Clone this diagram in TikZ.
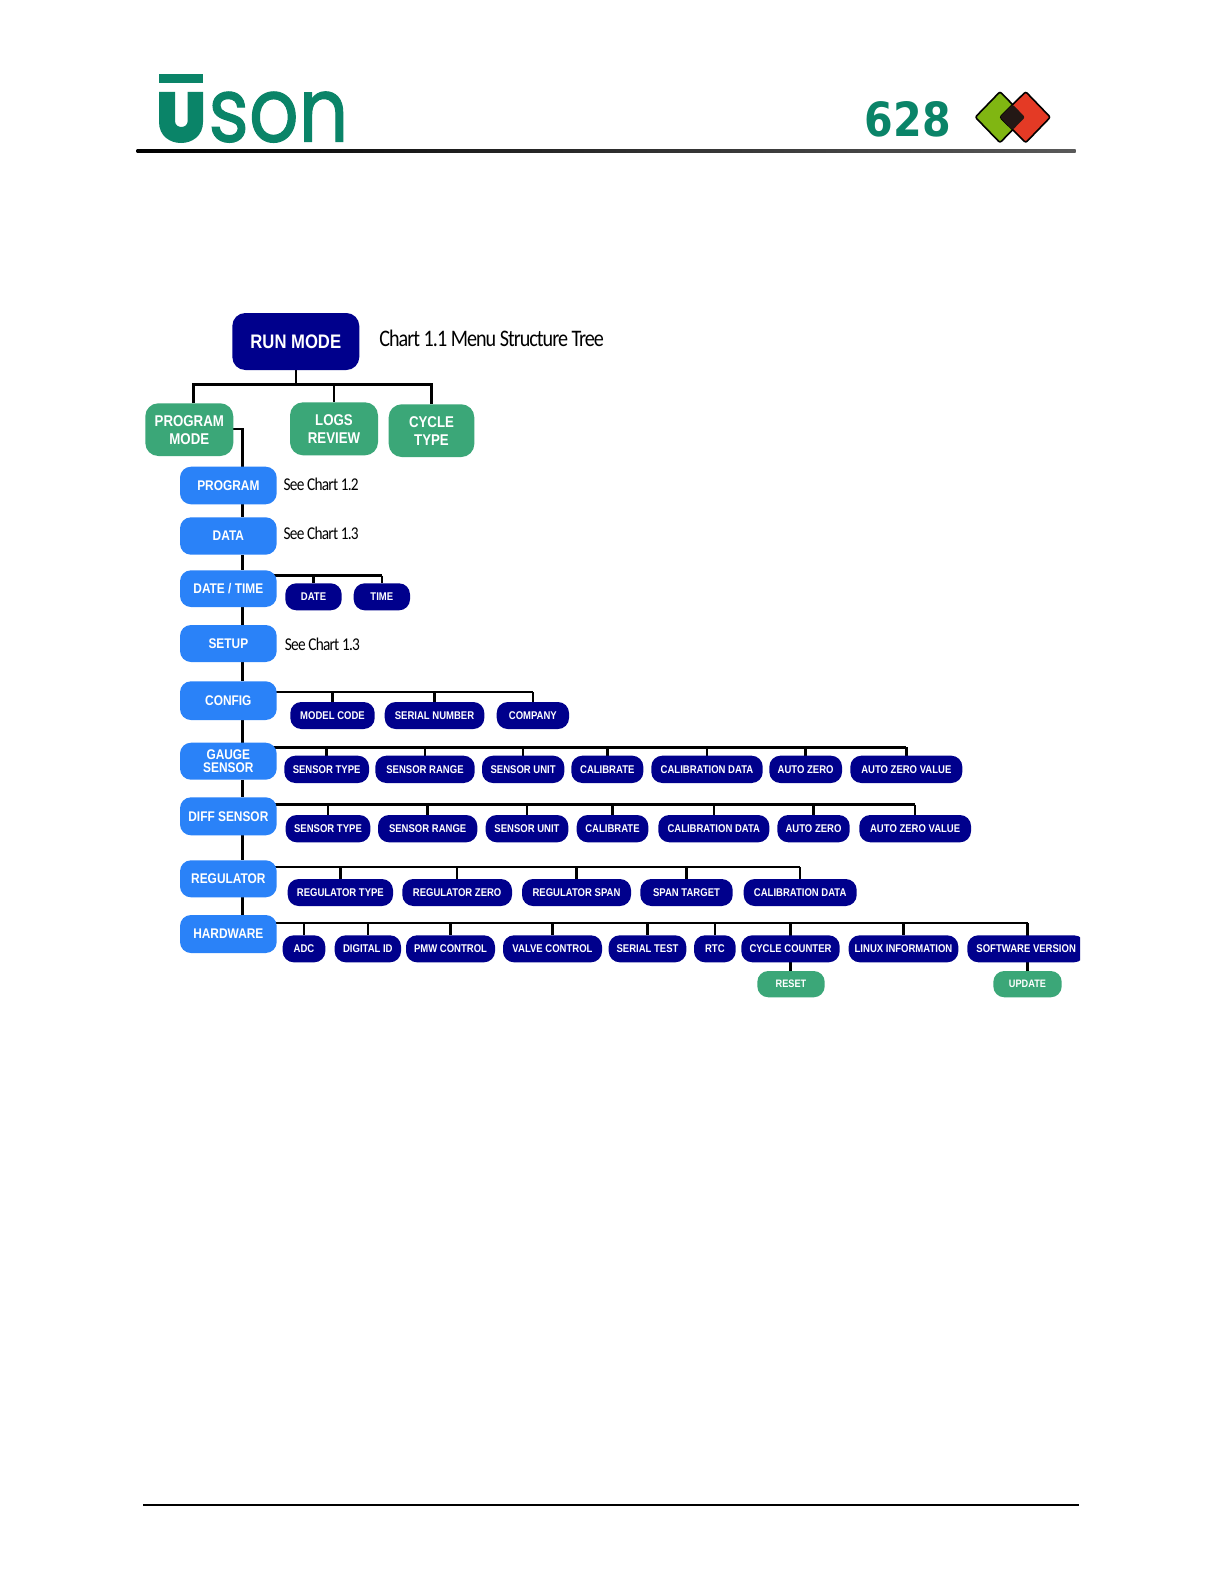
\documentclass[tikz,border=0pt]{standalone}
\usepackage{fontspec}
\usepackage{graphicx}
\usetikzlibrary{backgrounds}
\newfontfamily\labfont[FakeStretch=0.85]{Liberation Sans}
\newfontfamily\chartfont[FakeStretch=0.85,LetterSpace=-4.2]{Carlito}
\newfontfamily\logofont[FakeBold=1.2]{Poppins}
\newfontfamily\numfont{DejaVu Sans}
\definecolor{navybox}{RGB}{0,0,140}
\definecolor{bluebox}{RGB}{42,130,248}
\definecolor{greenbox}{RGB}{59,167,120}
\definecolor{logogreen}{RGB}{10,132,104}
\definecolor{dgreen}{RGB}{128,182,18}
\definecolor{dred}{RGB}{228,58,37}
\definecolor{ddark}{RGB}{35,24,21}
\tikzset{
  wd/.style={minimum width=#1*0.5pt},
  ht/.style={minimum height=#1*0.5pt},
  box/.style={inner sep=0pt,outer sep=0pt,text=white,align=center},
  runbox/.style={box,fill=navybox,rounded corners=6.5pt,font=\labfont\bfseries\fontsize{9.8}{11}\selectfont},
  modebox/.style={box,fill=greenbox,rounded corners=6.5pt,font=\labfont\bfseries\fontsize{7.8}{9}\selectfont},
  menubox/.style={box,fill=bluebox,rounded corners=5.5pt,wd=96.7,font=\labfont\bfseries\fontsize{7}{6.5}\selectfont},
  subbox/.style={box,fill=navybox,rounded corners=5.5pt,font=\labfont\bfseries\fontsize{5.6}{6.5}\selectfont},
  actbox/.style={box,fill=greenbox,rounded corners=5.5pt,font=\labfont\bfseries\fontsize{5.4}{6.5}\selectfont},
  conn/.style={draw=black,line width=1.25pt},
  note/.style={inner sep=0pt,anchor=west,font=\chartfont\fontsize{9}{11}\selectfont},
}
\begin{document}
\begin{tikzpicture}[x=0.5pt,y=-0.5pt]
\useasboundingbox (0,0) rectangle (1224,1584);

% header
\fill[logogreen] (159,74) rectangle (203,83);
\fill[logogreen] (159,92) -- (175,92) -- (175,121) .. controls (175,129) and (187.7,129) .. (187.7,121) -- (187.7,92) -- (203,92) -- (203,122) .. controls (203,150) and (159,150) .. (159,122) -- cycle;
\node[inner sep=0pt,anchor=base west,text=logogreen] (logoson) at (208,141.7) {\resizebox{70pt}{25pt}{\logofont son}};
\node[inner sep=0pt,text=logogreen,anchor=base west] (logonum) at (864.3,136.7) {\resizebox{43pt}{17.5pt}{\numfont\bfseries 628}};
\draw[fill=dgreen,line width=0.8pt,rounded corners=1pt] (975.3,117.2) -- (1000,91.7) -- (1025,117.2) -- (1000,142.7) -- cycle;
\draw[fill=dred,line width=0.8pt,rounded corners=1pt] (1000,117.2) -- (1025.7,91.7) -- (1050.3,117.2) -- (1025.7,142.7) -- cycle;
\fill[ddark,rounded corners=1pt] (1000,117.2) -- (1012.6,104.4) -- (1025,117.2) -- (1012.6,130) -- cycle;
\shade[left color=black,middle color=black,right color=black!65] (136.7,149.2) rectangle (1075.7,152.2);
\fill[black] (143.4,1504) rectangle (1078.6,1506);

% top level
\node[runbox,wd=127,ht=57] (run) at (295.8,341.5) {RUN MODE};
\node[modebox,wd=88,ht=52.7] (pm) at (189.3,429.65) {PROGRAM\\MODE};
\node[modebox,wd=88,ht=53] (logs) at (334,428.8) {LOGS\\REVIEW};
\node[modebox,wd=85.6,ht=52.7] (cyc) at (431.5,430.65) {CYCLE\\TYPE};
\node[inner sep=0pt,anchor=west,font=\chartfont\fontsize{11.85}{14}\selectfont] (title) at (379,338) {Chart 1.1 Menu Structure Tree};

% menu column
\node[menubox,ht=37.6] (prog) at (228.35,485.5) {PROGRAM};
\node[menubox,ht=37.4] (data) at (228.35,536) {DATA};
\node[menubox,ht=36.7] (dt) at (228.35,588.65) {DATE / TIME};
\node[menubox,ht=37] (setup) at (228.35,643.5) {SETUP};
\node[menubox,ht=38.7] (config) at (228.35,700.65) {CONFIG};
\node[menubox,ht=37] (gauge) at (228.35,761.2) {GAUGE\\SENSOR};
\node[menubox,ht=38] (diff) at (228.35,816.3) {DIFF SENSOR};
\node[menubox,ht=37] (reg) at (228.35,878.8) {REGULATOR};
\node[menubox,ht=38] (hw) at (228.35,934) {HARDWARE};

\node[note] (n1) at (283.3,484.3) {See Chart 1.2};
\node[note] (n2) at (283.3,533.3) {See Chart 1.3};
\node[note] (n3) at (284.5,644) {See Chart 1.3};

% date/time
\node[subbox,wd=56.4,ht=27] (date) at (313.5,596.8) {DATE};
\node[subbox,wd=56.3,ht=27] (time) at (381.85,596.8) {TIME};

% config
\node[subbox,wd=84.4,ht=27] (model) at (332.5,715.5) {MODEL CODE};
\node[subbox,wd=99.6,ht=27] (serial) at (434.5,715.5) {SERIAL NUMBER};
\node[subbox,wd=72.3,ht=27] (company) at (532.85,715.5) {COMPANY};

% gauge sensor
\node[subbox,wd=84.7,ht=27.3] (g1) at (326.65,769.35) {SENSOR TYPE};
\node[subbox,wd=99.4,ht=27.3] (g2) at (425,769.35) {SENSOR RANGE};
\node[subbox,wd=82.3,ht=27.3] (g3) at (523.15,769.35) {SENSOR UNIT};
\node[subbox,wd=72,ht=27.3] (g4) at (607.3,769.35) {CALIBRATE};
\node[subbox,wd=111.4,ht=27.3] (g5) at (707,769.35) {CALIBRATION DATA};
\node[subbox,wd=72.7,ht=27.3] (g6) at (805.65,769.35) {AUTO ZERO};
\node[subbox,wd=112,ht=27.3] (g7) at (906.3,769.35) {AUTO ZERO VALUE};

% diff sensor
\node[subbox,wd=84.6,ht=27.3] (d1) at (328,828.65) {SENSOR TYPE};
\node[subbox,wd=99.3,ht=27.3] (d2) at (427.65,828.65) {SENSOR RANGE};
\node[subbox,wd=82.6,ht=27.3] (d3) at (527,828.65) {SENSOR UNIT};
\node[subbox,wd=71.6,ht=27.3] (d4) at (612.5,828.65) {CALIBRATE};
\node[subbox,wd=111,ht=27.3] (d5) at (713.8,828.65) {CALIBRATION DATA};
\node[subbox,wd=72.4,ht=27.3] (d6) at (813.5,828.65) {AUTO ZERO};
\node[subbox,wd=111.7,ht=27.3] (d7) at (915.15,828.65) {AUTO ZERO VALUE};

% regulator
\node[subbox,wd=105.3,ht=27] (r1) at (340.35,892.5) {REGULATOR TYPE};
\node[subbox,wd=109.7,ht=27] (r2) at (457.15,892.5) {REGULATOR ZERO};
\node[subbox,wd=109,ht=27] (r3) at (576.5,892.5) {REGULATOR SPAN};
\node[subbox,wd=92.4,ht=27] (r4) at (686.5,892.5) {SPAN TARGET};
\node[subbox,wd=113,ht=27] (r5) at (800.2,892.5) {CALIBRATION DATA};

% hardware
\node[subbox,wd=42.6,ht=27] (h1) at (304,948.8) {ADC};
\node[subbox,wd=66.3,ht=27] (h2) at (367.85,948.8) {DIGITAL ID};
\node[subbox,wd=89,ht=27] (h3) at (450.5,948.8) {PMW CONTROL};
\node[subbox,wd=99,ht=27] (h4) at (552.5,948.8) {VALVE CONTROL};
\node[subbox,wd=77.6,ht=27] (h5) at (647.5,948.8) {SERIAL TEST};
\node[subbox,wd=41.7,ht=27] (h6) at (714.85,948.8) {RTC};
\node[subbox,wd=98.4,ht=27] (h7) at (790.5,948.8) {CYCLE COUNTER};
\node[subbox,wd=109.6,ht=27] (h8) at (903.5,948.8) {LINUX INFORMATION};
\begin{scope}
\clip (960,930) rectangle (1080,970);
\node[subbox,wd=117.7,ht=27] (h9) at (1026.15,948.8) {SOFTWARE VERSION};
\end{scope}
\node[actbox,wd=67.4,ht=26.3] (reset) at (791,984.15) {RESET};
\node[actbox,wd=68.4,ht=26.3] (update) at (1027.5,984.15) {UPDATE};

\coordinate (tx) at (242.7,0);
\coordinate (pmdrop) at (193.3,0);
\coordinate (pmy) at (0,429);
\coordinate (busa) at (0,384.3);
\coordinate (busb) at (0,575.7);
\coordinate (busc) at (0,692);
\coordinate (busd) at (0,747.3);
\coordinate (buse) at (0,804.7);
\coordinate (busf) at (0,867);
\coordinate (busg) at (0,923);

\begin{pgfonlayer}{background}
\fill[white] (0,0) rectangle (1224,1584);
% run mode tree
\draw[conn] (run.south) -- (run.south |- busa);
\draw[conn] (pmdrop |- pm.north) |- (busa -| cyc.north) -- (cyc.north);
\draw[conn] (logs.north |- busa) -- (logs.north);
% trunk
\draw[conn] (pm.center |- pmy) -| (tx |- prog.north);
\draw[conn] (tx |- prog.south) -- (tx |- data.north);
\draw[conn] (tx |- data.south) -- (tx |- dt.north);
\draw[conn] (tx |- dt.south) -- (tx |- setup.north);
\draw[conn] (tx |- setup.south) -- (tx |- config.north);
\draw[conn] (tx |- config.south) -- (tx |- gauge.north);
\draw[conn] (tx |- gauge.south) -- (tx |- diff.north);
\draw[conn] (tx |- diff.south) -- (tx |- reg.north);
\draw[conn] (tx |- reg.south) -- (tx |- hw.north);
% branch buses
\draw[conn] (dt.center |- busb) -- (busb -| time.north);
\foreach \c in {date,time} \draw[conn] (\c.north |- busb) -- (\c.north);
\draw[conn] (config.center |- busc) -- (busc -| company.north);
\foreach \c in {model,serial,company} \draw[conn] (\c.north |- busc) -- (\c.north);
\draw[conn] (gauge.center |- busd) -- (busd -| g7.north);
\foreach \c in {g1,g2,g3,g4,g5,g6,g7} \draw[conn] (\c.north |- busd) -- (\c.north);
\draw[conn] (diff.center |- buse) -- (buse -| d7.north);
\foreach \c in {d1,d2,d3,d4,d5,d6,d7} \draw[conn] (\c.north |- buse) -- (\c.north);
\draw[conn] (reg.center |- busf) -- (busf -| r5.north);
\foreach \c in {r1,r2,r3,r4,r5} \draw[conn] (\c.north |- busf) -- (\c.north);
\draw[conn] (hw.center |- busg) -- (busg -| update.north);
\foreach \c in {h1,h2,h3,h4,h5,h6,h8} \draw[conn] (\c.north |- busg) -- (\c.north);
\draw[conn] (busg -| h7.north) -- (h7.north |- reset.north);
\draw[conn] (busg -| update.north) -- (update.north);
\end{pgfonlayer}
\end{tikzpicture}
\end{document}
